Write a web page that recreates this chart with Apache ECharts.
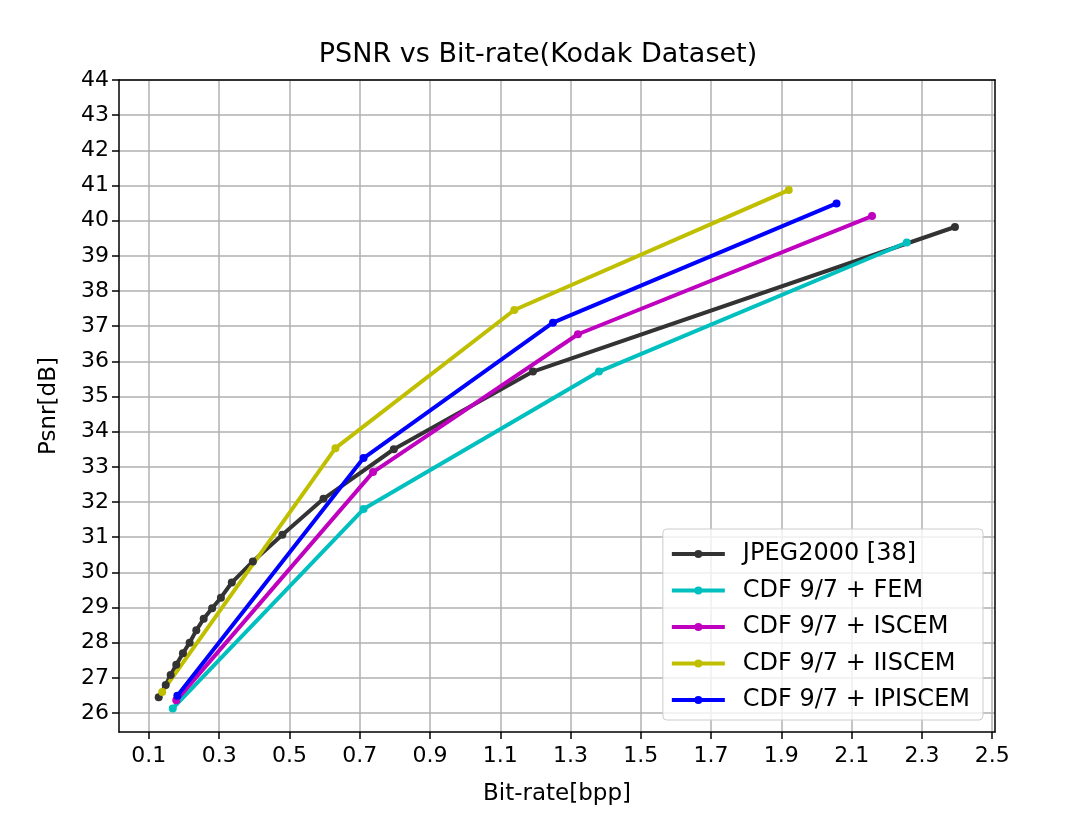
<!DOCTYPE html>
<html>
<head>
<meta charset="utf-8">
<script src="https://cdn.jsdelivr.net/npm/echarts@6/dist/echarts.min.js"></script>
<style>
html,body{margin:0;padding:0;background:#fff;}
#chart{width:1076px;height:819px;}
</style>
</head>
<body>
<div id="chart"></div>
<script>
const seriesNames = ['JPEG2000 [38]', 'CDF 9/7 + FEM', 'CDF 9/7 + ISCEM', 'CDF 9/7 + IISCEM', 'CDF 9/7 + IPISCEM'];
const jpegX = [0.128, 0.148, 0.162, 0.178, 0.197, 0.216, 0.235, 0.256, 0.28, 0.305, 0.336, 0.396, 0.48, 0.597, 0.797, 1.193, 2.394];
const jpegY = [26.45, 26.8, 27.08, 27.37, 27.7, 28.0, 28.35, 28.68, 28.98, 29.28, 29.71, 30.31, 31.07, 32.09, 33.5, 35.71, 39.82];
const femX = [0.168, 0.711, 1.381, 2.257];
const femY = [26.13, 31.8, 35.71, 39.38];
const iscemX = [0.178, 0.738, 1.321, 2.158];
const iscemY = [26.36, 32.85, 36.77, 40.13];
const iiscemX = [0.138, 0.631, 1.14, 1.921];
const iiscemY = [26.6, 33.53, 37.46, 40.87];
const ipiscemX = [0.181, 0.711, 1.25, 2.057];
const ipiscemY = [26.49, 33.25, 37.1, 40.49];
const xTicks = [0.1, 0.3, 0.5, 0.7, 0.9, 1.1, 1.3, 1.5, 1.7, 1.9, 2.1, 2.3, 2.5];
const yTicks = [26, 27, 28, 29, 30, 31, 32, 33, 34, 35, 36, 37, 38, 39, 40, 41, 42, 43, 44];
const colors = ['#333333', '#00BFBF', '#BF00BF', '#BFBF00', '#0000FF'];

const xs = [jpegX, femX, iscemX, iiscemX, ipiscemX];
const ys = [jpegY, femY, iscemY, iiscemY, ipiscemY];

const font = 'DejaVu Sans';
const chart = echarts.init(document.getElementById('chart'), null, {renderer: 'canvas'});

const series = seriesNames.map((n, i) => ({
  name: n,
  type: 'line',
  xAxisIndex: 0,
  yAxisIndex: 0,
  data: xs[i].map((x, k) => [x, ys[i][k]]),
  symbol: 'circle',
  symbolSize: 8,
  showSymbol: true,
  lineStyle: {width: 4, color: colors[i]},
  itemStyle: {color: colors[i]},
  emphasis: {disabled: true},
  animation: false
}));

const X_MIN = 0.015, X_MAX = 2.508, Y_MIN = 25.46, Y_MAX = 44;
const frameLine = {show: true, onZero: false, lineStyle: {color: '#000', width: 1.5}};

chart.setOption({
  animation: false,
  title: {
    text: 'PSNR vs Bit-rate(Kodak Dataset)',
    left: 'center',
    top: 36,
    padding: [5, 5, 5, 39],
    textStyle: {fontFamily: font, fontSize: 27, fontWeight: 'normal', color: '#000'}
  },
  grid: {
    left: 119, right: 81, top: 80, bottom: 87,
    show: false
  },
  legend: {
    orient: 'vertical',
    right: 93,
    bottom: 99,
    data: seriesNames,
    itemWidth: 53,
    itemHeight: 10,
    itemGap: 12.5,
    padding: [13, 13, 8, 7],
    backgroundColor: 'rgba(255,255,255,0.8)',
    borderColor: '#cccccc',
    borderWidth: 1,
    borderRadius: 4,
    lineStyle: {width: 4},
    textStyle: {fontFamily: font, fontSize: 24, color: '#000', padding: [0, 0, 0, 13]}
  },
  xAxis: [{
    type: 'value',
    min: X_MIN,
    max: X_MAX,
    name: 'Bit-rate[bpp]',
    nameLocation: 'middle',
    nameGap: 51,
    nameTextStyle: {fontFamily: font, fontSize: 23, color: '#000'},
    axisLine: frameLine,
    axisTick: {show: true, length: 7, inside: false, customValues: xTicks, lineStyle: {color: '#000', width: 1.5}},
    axisLabel: {customValues: xTicks, fontFamily: font, fontSize: 22, color: '#000', margin: 13,
      formatter: v => v.toFixed(1)},
    splitLine: {show: true, lineStyle: {color: '#b0b0b0', width: 1.5}}
  }, {
    type: 'value',
    position: 'top',
    min: X_MIN,
    max: X_MAX,
    axisLine: frameLine,
    axisTick: {show: false},
    axisLabel: {show: false},
    splitLine: {show: false}
  }],
  yAxis: [{
    type: 'value',
    min: Y_MIN,
    max: Y_MAX,
    name: 'Psnr[dB]',
    nameLocation: 'middle',
    nameGap: 58,
    nameRotate: 90,
    nameTextStyle: {fontFamily: font, fontSize: 23, color: '#000'},
    axisLine: frameLine,
    axisTick: {show: true, length: 7, inside: false, customValues: yTicks, lineStyle: {color: '#000', width: 1.5}},
    axisLabel: {customValues: yTicks, fontFamily: font, fontSize: 22, color: '#000', margin: 10,
      formatter: v => String(Math.round(v))},
    splitLine: {show: true, lineStyle: {color: '#b0b0b0', width: 1.5}}
  }, {
    type: 'value',
    position: 'right',
    min: Y_MIN,
    max: Y_MAX,
    axisLine: frameLine,
    axisTick: {show: false},
    axisLabel: {show: false},
    splitLine: {show: false}
  }],
  series: series
});
</script>
</body>
</html>
